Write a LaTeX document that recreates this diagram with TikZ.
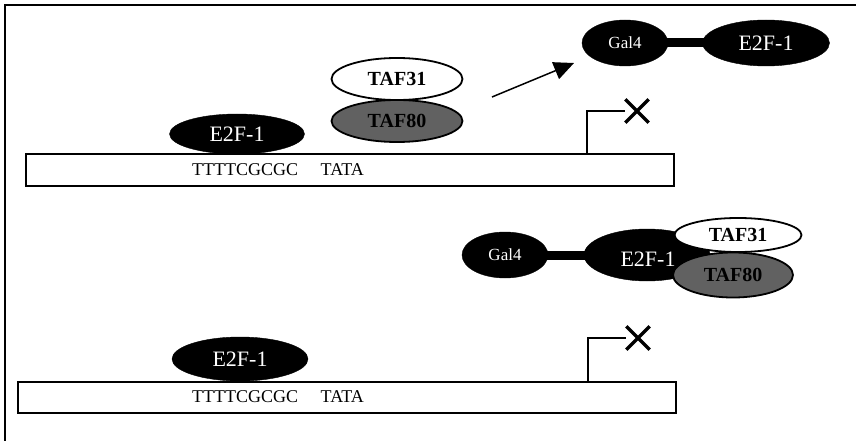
\documentclass[tikz,border=0pt]{standalone}
\usepackage{fontspec}
\setmainfont{Liberation Serif}
\usetikzlibrary{shapes.geometric,shapes.misc,arrows.meta}
\tikzset{
  frameline/.style={line width=2pt},
  dnabox/.style={draw, line width=1.8pt, inner sep=0pt, anchor=north west},
  dnatext/.style={font=\fontsize{18}{18}\selectfont, inner sep=0pt, anchor=west},
  blob/.style={ellipse, fill=black, draw=black, inner sep=0pt, text=white},
  e2flabel/.style={font=\fontsize{22}{22}\selectfont},
  gallabel/.style={font=\fontsize{17}{17}\selectfont},
  tafbox/.style={ellipse, draw, line width=1.8pt, fill=white, inner sep=0pt, font=\bfseries\fontsize{20}{20}\selectfont},
  tafdark/.style={tafbox, fill=black!62},
  linkbar/.style={line width=9pt, shorten <=-6pt, shorten >=-6pt},
  promoter/.style={line width=1.8pt},
  crossmark/.style={cross out, draw, line width=3.4pt, minimum size=20pt, inner sep=0pt},
  bindarrow/.style={line width=1.5pt, -{Triangle[length=20pt,width=18pt]}}
}
\begin{document}
\begin{tikzpicture}[x=1pt, y=-1pt]
\useasboundingbox (0,0) rectangle (856,441);
% frame
\coordinate (frTR) at (856,5);
\coordinate (frTL) at (5,5);
\coordinate (frBL) at (5,441);
\draw[frameline] (frTR) -- (frTL) -- (frBL);

% ---------- top panel ----------
\node[dnabox, minimum width=648pt, minimum height=32pt] (dnaA) at (25,153) {};
\node[dnatext] (seqA) at (192,170) {TTTTCGCGC\hspace{1.25em}TATA};
\node[blob, minimum width=135pt, minimum height=40pt, e2flabel] (e2fA) at (237,134) {E2F-1};
\node[tafbox, minimum width=131pt, minimum height=42pt] (taf31A) at (397,79) {TAF31};
\node[tafdark, minimum width=131pt, minimum height=42pt] (taf80A) at (397,121) {TAF80};
\coordinate (tssA) at (587,153);
\node[crossmark] (xA) at (637,111) {};
\draw[promoter] (tssA) |- (xA.west);
\coordinate (arrA) at (492,97);
\coordinate (arrB) at (574,63);
\draw[bindarrow] (arrA) -- (arrB);
\node[blob, minimum width=86pt, minimum height=46pt, gallabel] (galA) at (625,43) {Gal4};
\node[blob, minimum width=127pt, minimum height=46pt, e2flabel] (e2fC) at (766,43) {E2F-1};
\draw[linkbar] (galA.east) -- (e2fC.west);

% ---------- bottom panel ----------
\node[dnabox, minimum width=658pt, minimum height=31pt] (dnaB) at (17,381) {};
\node[dnatext] (seqB) at (192,397) {TTTTCGCGC\hspace{1.25em}TATA};
\node[blob, minimum width=136pt, minimum height=44pt, e2flabel] (e2fB) at (240,359) {E2F-1};
\coordinate (tssB) at (588,381);
\node[crossmark] (xB) at (638,338) {};
\draw[promoter] (tssB) |- (xB.west);
\node[blob, minimum width=86pt, minimum height=46pt, gallabel] (galB) at (505,255) {Gal4};
\node[blob, minimum width=126pt, minimum height=52pt] (e2fD) at (647,255) {};
\draw[linkbar] (galB.east) -- (e2fD.west);
\node[text=white, e2flabel, inner sep=0pt] (e2fDt) at (648,259) {E2F-1};
\node[tafbox, minimum width=127pt, minimum height=34pt] (taf31B) at (738,235) {TAF31};
\node[tafdark, minimum width=120pt, minimum height=45pt] (taf80B) at (733,275) {TAF80};
\end{tikzpicture}
\end{document}
